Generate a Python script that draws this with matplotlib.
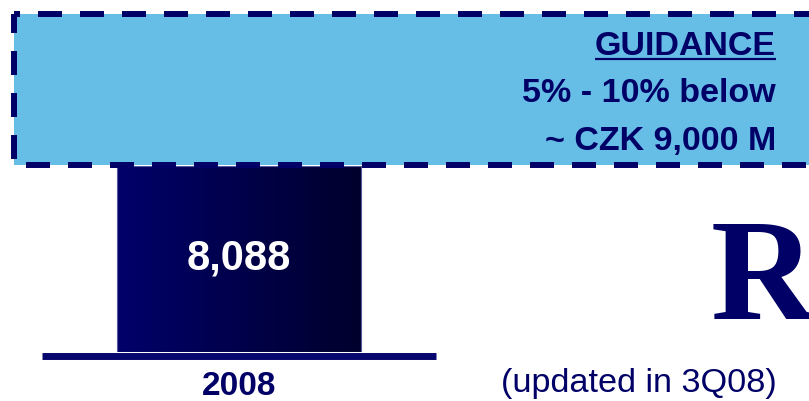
import matplotlib
matplotlib.use("Agg")
import matplotlib.pyplot as plt
from matplotlib.patches import Rectangle
from matplotlib.colors import LinearSegmentedColormap
from matplotlib.font_manager import FontProperties
from matplotlib.textpath import TextPath
import numpy as np

# data
years = ["2008"]
revenue = [8088]
guidance_lines = ["GUIDANCE", "5% - 10% below", "~ CZK 9,000 M"]
big_letter = "R"
note = "(updated in 3Q08)"

NAVY = "#000066"
LIGHT_BLUE = "#66BEE6"

plt.rcParams["lines.scale_dashes"] = False
plt.rcParams["font.family"] = ["Liberation Sans", "DejaVu Sans"]

W, H = 809, 401
fig = plt.figure(figsize=(W / 100, H / 100), dpi=100)


def fig_box(x0, y0, x1, y1):
    # pixel box (top-left origin) -> figure fraction
    return [x0 / W, 1 - y1 / H, (x1 - x0) / W, (y1 - y0) / H]


# bar chart axes
bax = fig.add_axes(fig_box(42, 166, 436, 352))
for s in bax.spines.values():
    s.set_visible(False)
bax.set_yticks([])
bax.patch.set_alpha(0)

bars = bax.bar(range(len(years)), revenue, width=0.62, color="none",
               edgecolor="#5A5AA0", linewidth=0.8, zorder=3)
grad = LinearSegmentedColormap.from_list("navygrad", ["#00006A", "#00002C"])
for b, v in zip(bars, revenue):
    x0 = b.get_x()
    im = bax.imshow(np.linspace(0, 1, 256).reshape(1, -1), cmap=grad,
                    extent=(x0, x0 + b.get_width(), 0, v), aspect="auto",
                    zorder=2)
    im.set_clip_path(b)
    bax.text(b.get_x() + b.get_width() / 2, v / 2, f"{v:,}", ha="center",
             va="center", color="white", fontsize=30, fontweight="bold",
             zorder=4)
bax.set_xlim(-0.5, 0.5)
bax.set_ylim(0, revenue[0])
bax.set_xticks(range(len(years)))
bax.set_xticklabels(years, fontsize=24, fontweight="bold", color=NAVY)
bax.tick_params(axis="x", length=0, pad=14)

# overlay in pixel coordinates
ax = fig.add_axes([0, 0, 1, 1])
ax.set_xlim(0, W)
ax.set_ylim(H, 0)
ax.axis("off")
ax.patch.set_alpha(0)

# baseline under the bar
ax.plot([42, 436], [355.5, 355.5], color="#06066E", linewidth=5.0,
        solid_capstyle="butt")

# guidance box
ax.add_patch(Rectangle((14, 14), 820, 150.5, facecolor=LIGHT_BLUE,
                       edgecolor="none", zorder=2))
dash = (24 * 0.72, 18 * 0.72)
lw = 4.3
ax.plot([14, 830], [14, 14], color=NAVY, lw=lw, zorder=3,
        linestyle=(18 * 0.72, dash), dash_capstyle="butt")
ax.plot([14, 14], [14, 164.5], color=NAVY, lw=lw, zorder=3,
        linestyle=(5 * 0.72, dash), dash_capstyle="butt")
ax.plot([14, 830], [164.5, 164.5], color=NAVY, lw=lw, zorder=3,
        linestyle=(30 * 0.72, dash), dash_capstyle="butt")

baselines = [55, 102, 150]
texts = []
for line, yb in zip(guidance_lines, baselines):
    t = ax.text(776, yb, line, ha="right", va="baseline", fontsize=24.5,
                fontweight="bold", color=NAVY, zorder=4)
    texts.append(t)

# underline the heading
fig.canvas.draw()
bb = texts[0].get_window_extent()
inv = ax.transData.inverted()
(ux0, _), (ux1, _) = inv.transform([(bb.x0, 0), (bb.x1, 0)])
ax.plot([ux0, ux1], [58.5, 58.5], color=NAVY, lw=1.6, zorder=4,
        solid_capstyle="butt")

# large serif letter: size it so the glyph spans y 224..319, left edge at 713
serif_bold = FontProperties(family="Liberation Serif", weight="bold")
ext = TextPath((0, 0), big_letter, size=100, prop=serif_bold).get_extents()
px_per_unit = (319 - 224) / ext.height          # pixels per TextPath unit
size_pt = 100 * px_per_unit * 0.72
ax.text(713 - ext.x0 * px_per_unit, 319 + ext.y0 * px_per_unit, big_letter,
        ha="left", va="baseline", fontsize=size_pt, color=NAVY,
        fontproperties=serif_bold)

ax.text(501, 392, note, ha="left", va="baseline", fontsize=24.7,
        color=NAVY)

fig.savefig("out.png", dpi=100)
